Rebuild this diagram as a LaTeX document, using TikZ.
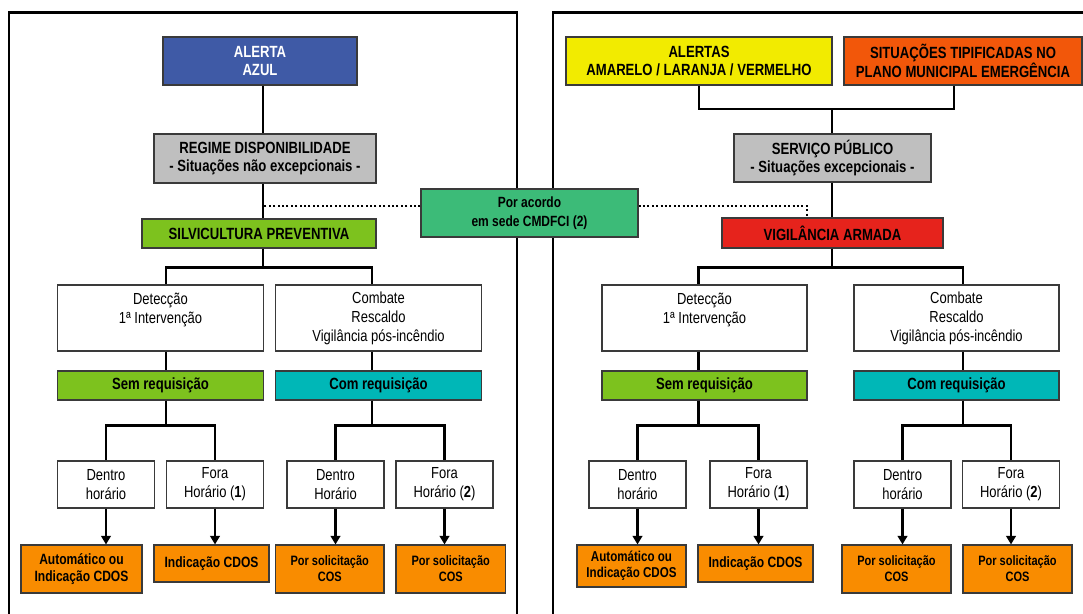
\documentclass[tikz,border=0pt]{standalone}
\usepackage{fontspec}
\setmainfont{Liberation Sans}[FakeStretch=0.81]
\usetikzlibrary{arrows.meta}

\definecolor{cAzul}{HTML}{3F5AA6}
\definecolor{cGrey}{HTML}{BFBFBF}
\definecolor{cLime}{HTML}{7DC21E}
\definecolor{cAcordo}{HTML}{3CBB78}
\definecolor{cTeal}{HTML}{00B7B7}
\definecolor{cYellow}{HTML}{F2EB00}
\definecolor{cOrRed}{HTML}{F2570A}
\definecolor{cRed}{HTML}{E6231C}
\definecolor{cOrange}{HTML}{F98C00}
\definecolor{cEdge}{HTML}{3A3A3A}

\begin{document}
\begin{tikzpicture}[x=1pt,y=-1pt,
  every node/.style={inner sep=0pt, align=center},
  base/.style={draw=cEdge, line width=1.1pt},
  title/.style={base, font=\bfseries\fontsize{16.2}{18.5}\selectfont},
  plain/.style={base, fill=white, font=\fontsize{16}{19}\selectfont},
  outcome/.style={base, fill=cOrange, font=\bfseries\fontsize{14.9}{16.5}\selectfont},
  outsmall/.style={outcome, font=\bfseries\fontsize{13.6}{16}\selectfont},
  frame/.style={draw=black, line width=2.4pt},
  link/.style={draw=black, line width=2.8pt, line join=miter},
  flow/.style={link, -{Triangle[length=8.5pt,width=9.5pt]}},
  dotline/.style={draw=black, line width=2.3pt, dash pattern=on 2pt off 2.4pt}
]
\useasboundingbox (0,0) rectangle (1083,613);

% two panels
\draw[frame] (9,12.5) rectangle (517,650);
\draw[frame] (553,12.5) rectangle (1110,650);

% ---------- left panel ----------
\node[title, fill=cAzul, text=white, minimum width=194pt, minimum height=48pt] (azul) at (260,61) {ALERTA\\AZUL};
\node[title, fill=cGrey, minimum width=222pt, minimum height=49pt] (regime) at (265,158.5) {REGIME DISPONIBILIDADE\\- Situações não excepcionais -};
\node[title, fill=cLime, minimum width=234pt, minimum height=29pt] (silvi) at (259,233.5) {SILVICULTURA PREVENTIVA};

\node[plain, minimum width=206pt, minimum height=66pt] (detL) at (160.5,318) {Detecção\\1ª Intervenção\\\phantom{X}};
\node[plain, minimum width=206pt, minimum height=66pt] (comL) at (378.5,318) {Combate\\Rescaldo\\Vigilância pós-incêndio};
\node[title, fill=cLime, minimum width=206pt, minimum height=29pt] (semL) at (160.5,385.5) {Sem requisição};
\node[title, fill=cTeal, minimum width=206pt, minimum height=29pt] (reqL) at (378.5,385.5) {Com requisição};

\node[plain, minimum width=97pt, minimum height=47pt] (dA) at (106,484.5) {Dentro\\horário};
\node[plain, minimum width=97pt, minimum height=47pt] (fA) at (215,484.5) {Fora\\Horário (\textbf{1})};
\node[plain, minimum width=97pt, minimum height=47pt] (dB) at (335.5,484.5) {Dentro\\Horário};
\node[plain, minimum width=97pt, minimum height=47pt] (fB) at (444.5,484.5) {Fora\\Horário (\textbf{2})};

\node[outcome, minimum width=121pt, minimum height=48pt] (oA) at (81.5,569) {Automático ou\\Indicação CDOS};
\node[outcome, minimum width=115pt, minimum height=37pt] (oB) at (211.5,563.5) {Indicação CDOS};
\node[outsmall, minimum width=108.5pt, minimum height=48pt] (oC) at (329.75,569) {Por solicitação\\COS};
\node[outsmall, minimum width=109.5pt, minimum height=48pt] (oD) at (450.75,569) {Por solicitação\\COS};

% shared agreement box
\node[title, fill=cAcordo, font=\bfseries\fontsize{14.8}{19}\selectfont, minimum width=217pt, minimum height=48pt] (acordo) at (529.5,213) {Por acordo\\em sede CMDFCI (2)};

% ---------- right panel ----------
\node[title, fill=cYellow, minimum width=266pt, minimum height=48pt] (amar) at (699,61) {ALERTAS\\AMARELO / LARANJA / VERMELHO};
\node[title, fill=cOrRed, minimum width=238pt, minimum height=48pt] (tipif) at (963,61) {SITUAÇÕES TIPIFICADAS NO\\PLANO MUNICIPAL EMERGÊNCIA};
\node[title, fill=cGrey, minimum width=197pt, minimum height=48pt] (servico) at (832.5,158) {SERVIÇO PÚBLICO\\- Situações excepcionais -};
\node[title, fill=cRed, minimum width=221pt, minimum height=30pt] (vigil) at (832.5,233) {VIGILÂNCIA ARMADA};

\node[plain, minimum width=205pt, minimum height=66pt] (detR) at (704.5,318) {Detecção\\1ª Intervenção\\\phantom{X}};
\node[plain, minimum width=205pt, minimum height=66pt] (comR) at (956.5,318) {Combate\\Rescaldo\\Vigilância pós-incêndio};
\node[title, fill=cLime, minimum width=205pt, minimum height=29pt] (semR) at (704.5,385.5) {Sem requisição};
\node[title, fill=cTeal, minimum width=205pt, minimum height=29pt] (reqR) at (956.5,385.5) {Com requisição};

\node[plain, minimum width=97pt, minimum height=47pt] (dC) at (637.5,484.5) {Dentro\\horário};
\node[plain, minimum width=97pt, minimum height=47pt] (fC) at (758.5,484.5) {Fora\\Horário (\textbf{1})};
\node[plain, minimum width=97pt, minimum height=47pt] (dD) at (902.5,484.5) {Dentro\\horário};
\node[plain, minimum width=97pt, minimum height=47pt] (fD) at (1011,484.5) {Fora\\Horário (\textbf{2})};

\node[outcome, font=\bfseries\fontsize{14.3}{16}\selectfont, minimum width=109pt, minimum height=42pt] (oE) at (631.5,566) {Automático ou\\Indicação CDOS};
\node[outcome, minimum width=115pt, minimum height=37pt] (oF) at (755.5,563.5) {Indicação CDOS};
\node[outsmall, minimum width=109pt, minimum height=48pt] (oG) at (896.5,569) {Por solicitação\\COS};
\node[outsmall, minimum width=109pt, minimum height=48pt] (oH) at (1017.5,569) {Por solicitação\\COS};

% x positions of the vertical runs
\coordinate (sL) at (263,0);
\coordinate (xA) at (166,0);
\coordinate (xB) at (372,0);
\coordinate (sR) at (832,0);
\coordinate (xT) at (954,0);
\coordinate (xC) at (698.5,0);
\coordinate (xD) at (963,0);
\coordinate (xV) at (807,0);
\coordinate (jbar) at (0,109);

% ---------- left connectors ----------
\draw[link] (azul.south -| sL) -- (regime.north -| sL);
\draw[link] (regime.south -| sL) -- (silvi.north -| sL);
\draw[link] (silvi.south -| sL) -- ++(0,18.7) -| (detL.north -| xA);
\draw[link] (silvi.south -| sL) -- ++(0,18.7) -| (comL.north -| xB);
\draw[link] (detL.south -| xA) -- (semL.north -| xA);
\draw[link] (comL.south -| xB) -- (reqL.north -| xB);
\draw[link] (semL.south -| xA) -- ++(0,25) -| (dA.north);
\draw[link] (semL.south -| xA) -- ++(0,25) -| (fA.north);
\draw[link] (reqL.south -| xB) -- ++(0,25) -| (dB.north);
\draw[link] (reqL.south -| xB) -- ++(0,25) -| (fB.north);
\draw[flow] (dA.south) -- (dA.south |- oA.north);
\draw[flow] (fA.south) -- (fA.south |- oB.north);
\draw[flow] (dB.south) -- (dB.south |- oC.north);
\draw[flow] (fB.south) -- (fB.south |- oD.north);

% ---------- right connectors ----------
\draw[link] (amar.south) -- (amar.south |- jbar) -- (jbar -| xT) -- (tipif.south -| xT);
\draw[link] (jbar -| sR) -- (servico.north -| sR);
\draw[link] (servico.south -| sR) -- (vigil.north -| sR);
\draw[link] (vigil.south -| sR) -- ++(0,18.7) -| (detR.north -| xC);
\draw[link] (vigil.south -| sR) -- ++(0,18.7) -| (comR.north -| xD);
\draw[link] (detR.south -| xC) -- (semR.north -| xC);
\draw[link] (comR.south -| xD) -- (reqR.north -| xD);
\draw[link] (semR.south -| xC) -- ++(0,25) -| (dC.north);
\draw[link] (semR.south -| xC) -- ++(0,25) -| (fC.north);
\draw[link] (reqR.south -| xD) -- ++(0,25) -| (dD.north);
\draw[link] (reqR.south -| xD) -- ++(0,25) -| (fD.north);
\draw[flow] (dC.south) -- (dC.south |- oE.north);
\draw[flow] (fC.south) -- (fC.south |- oF.north);
\draw[flow] (dD.south) -- (dD.south |- oG.north);
\draw[flow] (fD.south) -- (fD.south |- oH.north);

% ---------- agreement links ----------
\coordinate (aW) at ([yshift=7pt]acordo.west);
\coordinate (aE) at ([yshift=7pt]acordo.east);
\draw[dotline] (aW) -- (aW -| sL);
\draw[dotline] (aE) -- (aE -| xV) -- (vigil.north -| xV);
\end{tikzpicture}
\end{document}
